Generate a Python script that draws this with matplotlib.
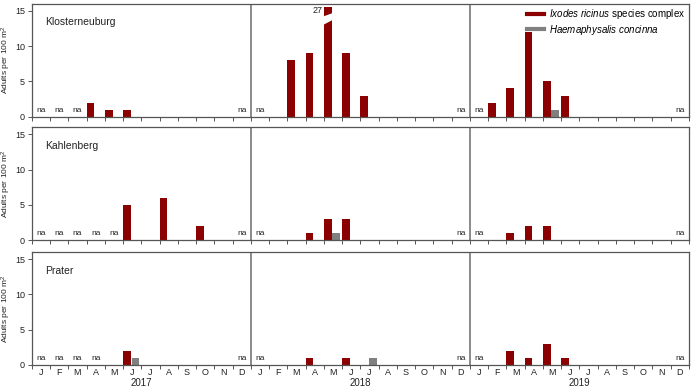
import numpy as np
import matplotlib
matplotlib.use('Agg')
import matplotlib.pyplot as plt
from matplotlib.lines import Line2D

plt.rcParams['font.family'] = 'Liberation Sans'
plt.rcParams['mathtext.fontset'] = 'custom'
plt.rcParams['mathtext.rm'] = 'Liberation Sans'
plt.rcParams['mathtext.it'] = 'Liberation Sans:italic'

na = np.nan
months = ['J', 'F', 'M', 'A', 'M', 'J', 'J', 'A', 'S', 'O', 'N', 'D']
years = ['2017', '2018', '2019']
sites = ['Klosterneuburg', 'Kahlenberg', 'Prater']

# monthly adults per 100 m2, Jan 2017 .. Dec 2019 (nan = not available)
kloster_ixodes = [na, na, na, 2, 1, 1, 0, 0, 0, 0, 0, na,
                  na, 0, 8, 9, 27, 9, 3, 0, 0, 0, 0, na,
                  na, 2, 4, 12, 5, 3, 0, 0, 0, 0, 0, na]
kloster_haema = [0, 0, 0, 0, 0, 0, 0, 0, 0, 0, 0, 0,
                 0, 0, 0, 0, 0, 0, 0, 0, 0, 0, 0, 0,
                 0, 0, 0, 0, 1, 0, 0, 0, 0, 0, 0, 0]
kahlen_ixodes = [na, na, na, na, na, 5, 0, 6, 0, 2, 0, na,
                 na, 0, 0, 1, 3, 3, 0, 0, 0, 0, 0, na,
                 na, 0, 1, 2, 2, 0, 0, 0, 0, 0, 0, na]
kahlen_haema = [0, 0, 0, 0, 0, 0, 0, 0, 0, 0, 0, 0,
                0, 0, 0, 0, 1, 0, 0, 0, 0, 0, 0, 0,
                0, 0, 0, 0, 0, 0, 0, 0, 0, 0, 0, 0]
prater_ixodes = [na, na, na, na, 0, 2, 0, 0, 0, 0, 0, na,
                 na, 0, 0, 1, 0, 1, 0, 0, 0, 0, 0, na,
                 na, 0, 2, 1, 3, 1, 0, 0, 0, 0, 0, na]
prater_haema = [0, 0, 0, 0, 0, 1, 0, 0, 0, 0, 0, 0,
                0, 0, 0, 0, 0, 0, 1, 0, 0, 0, 0, 0,
                0, 0, 0, 0, 0, 0, 0, 0, 0, 0, 0, 0]

ixodes_all = [kloster_ixodes, kahlen_ixodes, prater_ixodes]
haema_all = [kloster_haema, kahlen_haema, prater_haema]

red = '#8b0000'
grey = '#808080'
frame = '#555555'
cap = 15.6

fig = plt.figure(figsize=(6.91, 3.89), dpi=100)
bottoms = [0.700, 0.383, 0.0617]

for k, site in enumerate(sites):
    ax = fig.add_axes([0.046, bottoms[k], 0.951, 0.290])
    x = np.arange(36)
    iv = np.array(ixodes_all[k], dtype=float)
    hv = np.array(haema_all[k], dtype=float)
    ok = ~np.isnan(iv)
    ax.bar(x[ok], np.minimum(iv[ok], cap), width=0.43, align='edge',
           color=red, lw=0, zorder=2)
    ax.bar(x + 0.47, hv, width=0.43, align='edge', color=grey, lw=0, zorder=2)

    # broken bars for values beyond the axis
    for i in np.where(ok & (iv > cap))[0]:
        gx = [i - 0.05, i + 0.48, i + 0.48, i - 0.05]
        gy = [13.0, 13.72, 14.7, 14.2]
        ax.fill(gx, gy, color='white', lw=0, zorder=3)
        ax.text(i - 0.05, 15.05, '%d' % iv[i], ha='right', va='center',
                fontsize=6.5, color='#222222')

    for i in np.where(~ok)[0]:
        ax.text(i + 0.5, 0.4, 'na', ha='center', va='bottom', fontsize=6,
                color='#222222')

    ax.set_xlim(0, 36)
    ax.set_ylim(0, 16)
    ax.set_xticks(np.arange(37))
    ax.set_xticklabels([])
    ax.set_xticks(np.arange(36) + 0.5, minor=True)
    ax.tick_params(axis='x', which='minor', length=0, pad=2.5, labelsize=6.5,
                   colors='#222222')
    if k == 2:
        ax.set_xticklabels(months * 3, minor=True)
        for j, yr in enumerate(years):
            ax.text(12 * j + 6, -0.158, yr, transform=ax.get_xaxis_transform(),
                    ha='center', va='center', fontsize=7, color='#222222')
    else:
        ax.set_xticklabels([], minor=True)
    ax.tick_params(axis='x', which='major', length=3, width=0.7, color=frame)
    ax.set_yticks([0, 5, 10, 15])
    ax.tick_params(axis='y', length=3, width=0.7, color=frame, labelsize=6.5,
                   labelcolor='#222222', pad=2)
    for s in ax.spines.values():
        s.set_color(frame)
        s.set_linewidth(0.9)
    for b in (12, 24):
        ax.axvline(b, color='#777777', lw=1.2, zorder=1)
    ax.set_ylabel('Adults per 100 m$^2$', fontsize=6, labelpad=1.5,
                  color='#222222')
    ax.text(0.02, 0.837, site, transform=ax.transAxes, fontsize=7.5,
            va='center', color='#222222')

    if k == 0:
        handles = [Line2D([], [], color=red, lw=3),
                   Line2D([], [], color=grey, lw=3)]
        labels = ['$\\it{Ixodes\\ ricinus}$ species complex',
                  '$\\it{Haemaphysalis\\ concinna}$']
        ax.legend(handles, labels, loc='upper right', frameon=False,
                  fontsize=7, handlelength=1.75, handletextpad=0.5,
                  labelspacing=0.15, borderaxespad=0.15, borderpad=0.2)

fig.savefig('out.png', dpi=100)
